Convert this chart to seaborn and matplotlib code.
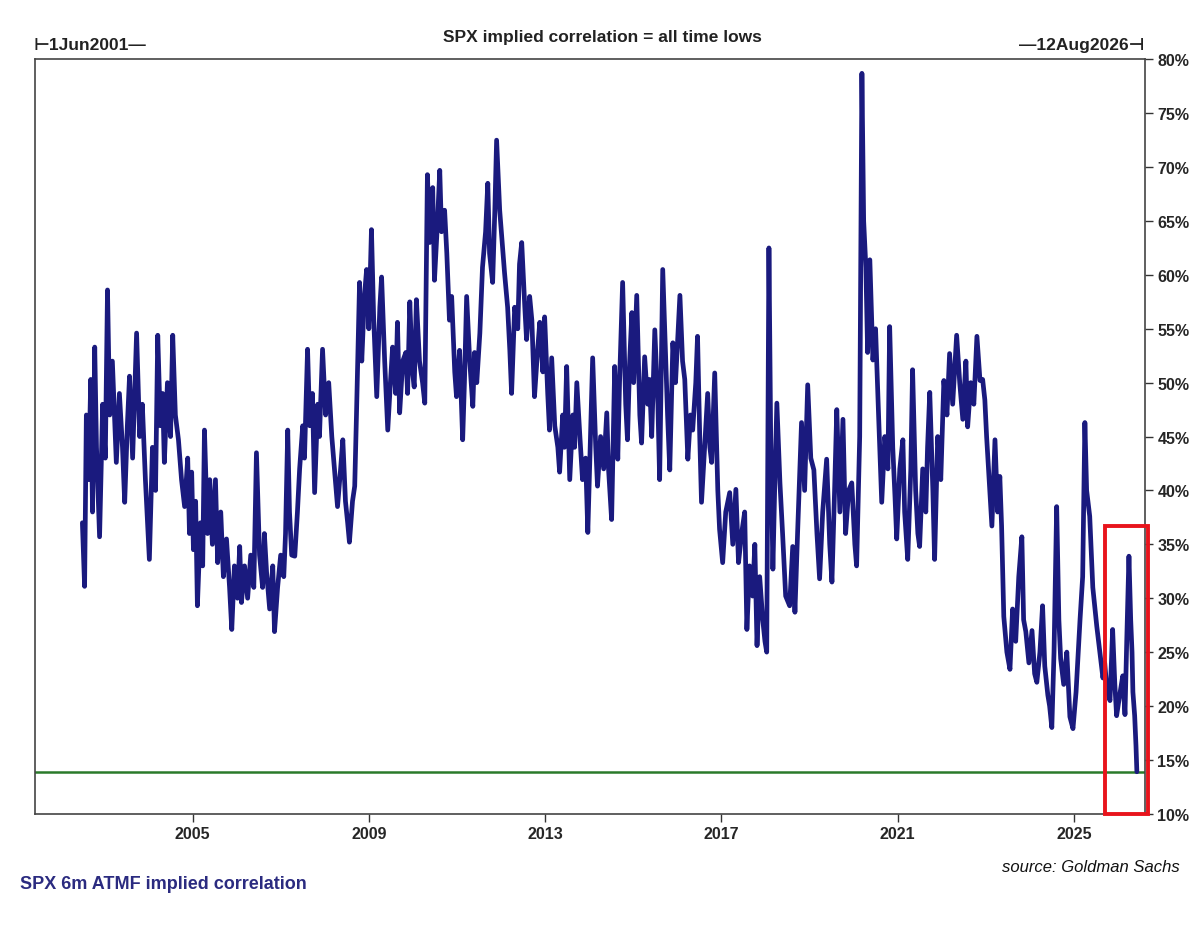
import numpy as np
import pandas as pd
import matplotlib
matplotlib.use("Agg")
import matplotlib.pyplot as plt
from matplotlib.patches import Rectangle
import seaborn as sns

# SPX 6m ATMF implied correlation (%); x in decimal years
years = [
    2002.50, 2002.55, 2002.59, 2002.64, 2002.69, 2002.73, 2002.78, 2002.82, 2002.89, 2002.96,
    2003.02, 2003.07, 2003.12, 2003.18, 2003.27, 2003.34, 2003.41, 2003.46, 2003.52, 2003.57,
    2003.64, 2003.73, 2003.80, 2003.86, 2003.93, 2004.02, 2004.09, 2004.16, 2004.21, 2004.27,
    2004.32, 2004.36, 2004.43, 2004.50, 2004.55, 2004.61, 2004.68, 2004.75, 2004.82, 2004.89,
    2004.93, 2004.98, 2005.02, 2005.07, 2005.11, 2005.18, 2005.23, 2005.27, 2005.34, 2005.39,
    2005.45, 2005.52, 2005.57, 2005.64, 2005.70, 2005.77, 2005.84, 2005.89, 2005.95, 2006.02,
    2006.07, 2006.11, 2006.18, 2006.25, 2006.32, 2006.39, 2006.45, 2006.52, 2006.59, 2006.63,
    2006.68, 2006.75, 2006.82, 2006.86, 2006.93, 2007.00, 2007.07, 2007.11, 2007.16, 2007.20,
    2007.25, 2007.32, 2007.38, 2007.43, 2007.50, 2007.54, 2007.61, 2007.66, 2007.72, 2007.77,
    2007.84, 2007.88, 2007.95, 2008.02, 2008.09, 2008.16, 2008.22, 2008.29, 2008.36, 2008.41,
    2008.47, 2008.52, 2008.56, 2008.63, 2008.68, 2008.72, 2008.79, 2008.84, 2008.90, 2008.95,
    2009.00, 2009.06, 2009.11, 2009.18, 2009.25, 2009.29, 2009.36, 2009.43, 2009.49, 2009.54,
    2009.61, 2009.65, 2009.70, 2009.77, 2009.84, 2009.88, 2009.93, 2009.99, 2010.03, 2010.08,
    2010.15, 2010.22, 2010.27, 2010.33, 2010.38, 2010.45, 2010.49, 2010.56, 2010.61, 2010.65,
    2010.72, 2010.77, 2010.83, 2010.88, 2010.95, 2010.99, 2011.06, 2011.13, 2011.17, 2011.22,
    2011.29, 2011.36, 2011.40, 2011.45, 2011.52, 2011.58, 2011.65, 2011.70, 2011.74, 2011.81,
    2011.86, 2011.90, 2011.97, 2012.01, 2012.08, 2012.15, 2012.20, 2012.24, 2012.31, 2012.38,
    2012.42, 2012.47, 2012.54, 2012.58, 2012.65, 2012.70, 2012.76, 2012.83, 2012.88, 2012.95,
    2012.99, 2013.06, 2013.10, 2013.15, 2013.22, 2013.29, 2013.33, 2013.40, 2013.44, 2013.49,
    2013.56, 2013.63, 2013.67, 2013.72, 2013.79, 2013.85, 2013.92, 2013.97, 2014.01, 2014.08,
    2014.15, 2014.19, 2014.26, 2014.33, 2014.40, 2014.44, 2014.51, 2014.58, 2014.63, 2014.65,
    2014.69, 2014.76, 2014.83, 2014.87, 2014.92, 2014.97, 2015.01, 2015.08, 2015.15, 2015.19,
    2015.26, 2015.33, 2015.37, 2015.42, 2015.49, 2015.56, 2015.60, 2015.67, 2015.74, 2015.78,
    2015.83, 2015.90, 2015.96, 2016.06, 2016.12, 2016.17, 2016.24, 2016.30, 2016.35, 2016.42,
    2016.46, 2016.51, 2016.55, 2016.62, 2016.69, 2016.74, 2016.78, 2016.85, 2016.92, 2016.96,
    2017.03, 2017.10, 2017.19, 2017.26, 2017.33, 2017.39, 2017.46, 2017.53, 2017.58, 2017.64,
    2017.71, 2017.76, 2017.81, 2017.87, 2017.94, 2017.99, 2018.03, 2018.08, 2018.12, 2018.17,
    2018.21, 2018.26, 2018.33, 2018.39, 2018.46, 2018.55, 2018.62, 2018.67, 2018.73, 2018.82,
    2018.89, 2018.96, 2019.03, 2019.10, 2019.17, 2019.23, 2019.30, 2019.39, 2019.46, 2019.51,
    2019.57, 2019.62, 2019.69, 2019.76, 2019.82, 2019.89, 2019.96, 2020.03, 2020.07, 2020.14,
    2020.19, 2020.23, 2020.28, 2020.32, 2020.37, 2020.44, 2020.50, 2020.57, 2020.64, 2020.71,
    2020.78, 2020.82, 2020.89, 2020.94, 2020.98, 2021.05, 2021.12, 2021.16, 2021.23, 2021.30,
    2021.34, 2021.41, 2021.46, 2021.50, 2021.57, 2021.64, 2021.68, 2021.73, 2021.80, 2021.84,
    2021.91, 2021.98, 2022.05, 2022.12, 2022.18, 2022.25, 2022.34, 2022.41, 2022.48, 2022.55,
    2022.59, 2022.66, 2022.73, 2022.80, 2022.87, 2022.93, 2022.98, 2023.02, 2023.09, 2023.14,
    2023.21, 2023.27, 2023.32, 2023.36, 2023.41, 2023.48, 2023.55, 2023.61, 2023.68, 2023.75,
    2023.82, 2023.86, 2023.91, 2023.98, 2024.05, 2024.11, 2024.16, 2024.23, 2024.29, 2024.34,
    2024.41, 2024.45, 2024.50, 2024.55, 2024.61, 2024.66, 2024.70, 2024.77, 2024.84, 2024.91,
    2024.98, 2025.05, 2025.14, 2025.20, 2025.25, 2025.29, 2025.36, 2025.43, 2025.52, 2025.59,
    2025.66, 2025.70, 2025.75, 2025.82, 2025.88, 2025.93, 2025.97, 2026.04, 2026.11, 2026.16,
    2026.20, 2026.25, 2026.29, 2026.32, 2026.34, 2026.38, 2026.41, 2026.43,
]
corr = [
    37.0, 31.1, 47.0, 41.0, 50.3, 38.0, 53.3, 44.0, 35.7, 48.0,
    43.0, 58.6, 47.0, 52.0, 42.6, 49.0, 44.0, 38.9, 46.0, 50.6,
    43.0, 54.6, 45.0, 48.0, 41.0, 33.6, 44.0, 40.0, 54.4, 46.0,
    49.0, 42.6, 50.0, 45.0, 54.4, 47.0, 44.7, 41.0, 38.5, 43.0,
    36.0, 41.7, 34.5, 39.0, 29.3, 37.0, 33.0, 45.6, 36.0, 41.0,
    35.0, 41.0, 33.3, 38.0, 32.0, 35.5, 31.0, 27.1, 33.0, 30.0,
    34.8, 29.6, 33.0, 30.0, 34.0, 31.0, 43.5, 34.0, 31.0, 36.0,
    32.4, 29.0, 33.0, 26.9, 31.0, 34.0, 32.0, 36.0, 45.6, 38.0,
    34.0, 33.9, 38.0, 42.0, 46.0, 43.0, 53.1, 46.0, 49.0, 39.8,
    48.0, 45.0, 53.1, 47.0, 50.0, 45.0, 42.0, 38.5, 42.0, 44.7,
    39.0, 37.0, 35.2, 39.0, 40.4, 47.0, 59.3, 52.0, 58.0, 60.5,
    55.0, 64.2, 56.0, 48.7, 57.0, 59.8, 52.0, 45.6, 50.0, 53.3,
    49.0, 55.6, 47.2, 52.0, 52.8, 49.0, 57.5, 51.0, 49.6, 57.7,
    52.0, 50.0, 48.1, 69.3, 63.0, 68.1, 59.5, 65.0, 69.7, 64.0,
    66.0, 62.0, 55.8, 58.0, 51.0, 48.7, 53.0, 44.7, 50.0, 58.0,
    52.0, 47.8, 52.8, 50.0, 54.6, 60.7, 64.0, 68.5, 62.0, 59.3,
    66.0, 72.5, 66.0, 63.9, 60.2, 57.0, 53.0, 49.0, 57.0, 55.0,
    61.0, 63.0, 57.0, 54.0, 58.0, 55.8, 48.7, 53.0, 55.6, 51.0,
    56.1, 49.0, 45.6, 52.3, 46.0, 44.0, 41.7, 47.0, 44.0, 51.5,
    41.0, 47.0, 44.0, 50.0, 45.0, 41.0, 43.0, 36.1, 42.0, 52.3,
    44.0, 40.4, 45.0, 42.0, 47.2, 42.0, 37.3, 51.5, 46.0, 42.9,
    50.0, 59.3, 48.0, 44.7, 52.0, 56.5, 50.0, 58.1, 47.0, 44.4,
    52.4, 48.0, 50.3, 45.0, 54.9, 48.0, 41.0, 60.5, 51.8, 47.0,
    41.9, 53.7, 50.0, 58.1, 52.0, 50.3, 42.9, 47.0, 45.6, 50.0,
    54.3, 45.0, 38.9, 44.0, 49.0, 44.0, 42.6, 50.9, 40.0, 36.4,
    33.3, 38.0, 39.8, 35.0, 40.1, 33.3, 36.0, 38.0, 27.1, 33.0,
    30.2, 35.0, 25.6, 32.0, 28.0, 26.0, 25.0, 62.5, 45.0, 32.7,
    40.0, 48.1, 40.7, 36.0, 30.2, 29.3, 34.8, 28.7, 36.0, 46.3,
    40.0, 49.8, 43.0, 41.9, 36.0, 31.8, 38.0, 42.9, 35.0, 31.5,
    40.0, 47.5, 38.0, 46.6, 36.0, 40.0, 40.7, 35.0, 33.0, 45.0,
    78.7, 65.0, 60.7, 52.8, 61.4, 52.1, 55.0, 46.8, 38.9, 45.0,
    42.0, 55.2, 44.0, 39.5, 35.5, 42.0, 44.7, 38.0, 33.6, 42.0,
    51.2, 40.0, 36.0, 34.8, 42.0, 38.0, 44.0, 49.1, 40.0, 33.6,
    45.0, 41.0, 50.2, 47.0, 52.7, 48.0, 54.4, 50.0, 46.6, 52.0,
    45.9, 50.0, 48.0, 54.3, 50.2, 50.3, 48.4, 45.0, 40.1, 36.7,
    44.7, 38.0, 41.3, 36.7, 28.3, 25.0, 23.4, 29.0, 26.0, 32.0,
    35.7, 28.0, 26.9, 24.0, 27.0, 23.0, 22.2, 25.0, 29.3, 23.7,
    21.0, 20.0, 18.0, 25.0, 38.5, 28.0, 24.4, 22.0, 25.0, 19.0,
    17.9, 21.3, 28.0, 32.0, 46.3, 40.0, 37.6, 31.0, 27.4, 25.0,
    22.6, 24.0, 21.6, 20.5, 27.1, 22.0, 19.1, 21.0, 22.8, 19.2,
    26.0, 33.9, 28.0, 25.0, 21.3, 19.1, 16.3, 13.9,
]

x_ticks = [2005, 2009, 2013, 2017, 2021, 2025]
y_ticks = list(range(10, 85, 5))
x_start, x_end = 2001.42, 2026.61   # 1Jun2001 .. 12Aug2026
all_time_low = 13.9
box_x = (2025.70, 2026.68)
box_top = 36.7

df = pd.DataFrame({"year": years, "corr": corr})

sns.set_style("white")
plt.rcParams["font.family"] = ["Liberation Sans", "DejaVu Sans"]

fig = plt.figure(figsize=(12, 9.28), dpi=100)
ax = fig.add_axes([0.029, 0.122, 0.925, 0.813])

sns.lineplot(data=df, x="year", y="corr", ax=ax, color="#1a1a7e",
             linewidth=3.4, estimator=None)
ax.axhline(all_time_low, color="#2a7a2a", linewidth=1.8, zorder=1)

ax.add_patch(Rectangle((box_x[0], 10), box_x[1] - box_x[0], box_top - 10,
                       fill=False, edgecolor="#e8141c", linewidth=2.8,
                       clip_on=False, zorder=5))

ax.set_xlim(x_start, x_end)
ax.set_ylim(10, 80)
ax.set_xticks(x_ticks)
ax.set_xticklabels([str(t) for t in x_ticks], fontsize=11.5, fontweight="bold")
ax.yaxis.tick_right()
ax.set_yticks(y_ticks)
ax.set_yticklabels([f"{v}%" for v in y_ticks], fontsize=11.5, fontweight="bold")
ax.tick_params(axis="both", direction="out", length=6, width=1, color="#333333",
               pad=3, bottom=True, right=True, left=False)
ax.set_xlabel("")
ax.set_ylabel("")
for sp in ax.spines.values():
    sp.set_color("#444444")
    sp.set_linewidth(1.2)

fig.text(0.502, 0.960, "SPX implied correlation = all time lows", ha="center",
         va="center", fontsize=12.5, fontweight="bold", color="#222222")
fig.text(0.028, 0.951, "\u22a21Jun2001\u2014", ha="left", va="center", fontsize=12.5,
         fontweight="bold", color="#222222", family=["Liberation Sans", "DejaVu Sans"])
fig.text(0.954, 0.951, "\u201412Aug2026\u22a3", ha="right", va="center", fontsize=12.5,
         fontweight="bold", color="#222222", family=["Liberation Sans", "DejaVu Sans"])
fig.text(0.983, 0.065, "source: Goldman Sachs", ha="right", va="center",
         fontsize=12, style="italic", color="#111111")
fig.text(0.017, 0.047, "SPX 6m ATMF implied correlation", ha="left", va="center",
         fontsize=13, fontweight="bold", color="#2b2b80")

fig.savefig("out.png", dpi=100)
